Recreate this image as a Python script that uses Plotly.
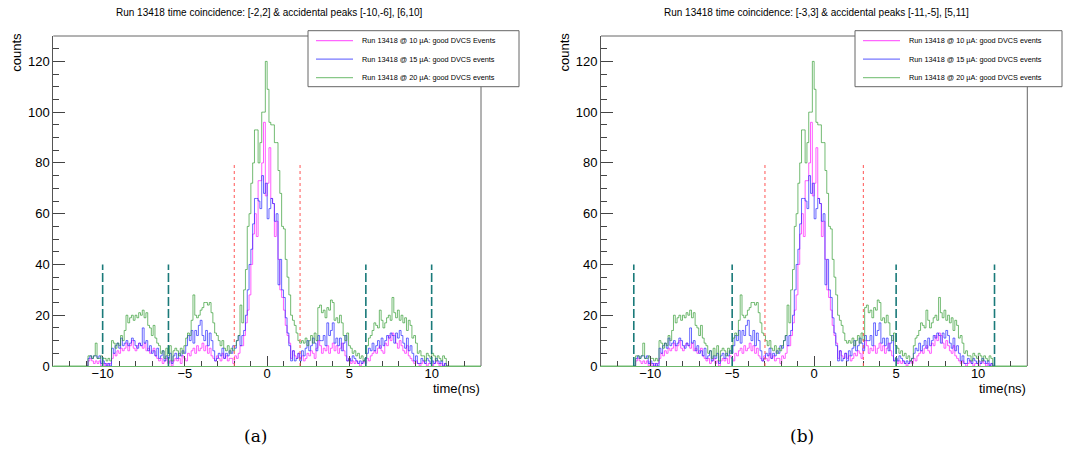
import numpy as np
import plotly.graph_objects as go

# ---------------- data ----------------
bin_lo, bin_hi, n_bins = -11.0, 11.0, 200
axis_range_x = [-13, 13]
axis_range_y = [0, 130]

counts_10uA = [
    0, 2, 3, 2, 1, 2, 1, 2, 0, 1,
    0, 1, 0, 1, 3, 5, 4, 6, 5, 7,
    6, 7, 9, 6, 8, 10, 7, 6, 8, 9,
    8, 7, 9, 6, 7, 5, 6, 7, 4, 3,
    2, 3, 1, 2, 3, 1, 2, 0, 2, 3,
    2, 3, 1, 4, 3, 2, 5, 4, 6, 7,
    5, 8, 6, 7, 9, 6, 8, 5, 7, 4,
    3, 2, 4, 3, 2, 5, 3, 4, 2, 3,
    3, 1, 4, 3, 5, 8, 8, 12, 17, 22,
    28, 40, 52, 60, 51, 73, 73, 80, 96, 67,
    72, 86, 66, 64, 51, 57, 42, 30, 27, 22,
    16, 12, 9, 3, 6, 4, 3, 5, 3, 4,
    2, 3, 5, 4, 6, 5, 3, 7, 10, 8,
    5, 7, 6, 8, 5, 7, 9, 6, 8, 5,
    7, 9, 6, 4, 2, 3, 1, 2, 1, 2,
    1, 0, 1, 2, 1, 3, 2, 4, 5, 6,
    5, 7, 8, 6, 5, 9, 8, 12, 10, 13,
    12, 9, 7, 10, 8, 6, 5, 8, 4, 3,
    2, 1, 2, 1, 0, 1, 2, 1, 0, 1,
    1, 0, 1, 2, 1, 0, 1, 0, 1, 0,
]
counts_15uA = [
    0, 3, 4, 3, 4, 4, 3, 4, 1, 2,
    1, 0, 1, 0, 7, 5, 8, 9, 7, 11,
    8, 9, 10, 8, 9, 11, 10, 8, 7, 9,
    8, 15, 9, 10, 6, 8, 5, 6, 4, 7,
    3, 4, 6, 2, 4, 3, 5, 1, 4, 5,
    3, 5, 4, 6, 5, 8, 12, 10, 14, 9,
    14, 12, 16, 18, 12, 10, 14, 8, 13, 10,
    6, 2, 3, 5, 4, 7, 3, 5, 4, 6,
    5, 8, 7, 10, 12, 8, 12, 14, 20, 30,
    40, 46, 56, 66, 66, 65, 62, 75, 68, 72,
    58, 62, 66, 64, 57, 60, 32, 42, 30, 27,
    19, 13, 8, 2, 6, 2, 3, 5, 2, 6,
    4, 7, 10, 6, 8, 11, 9, 6, 12, 10,
    10, 12, 8, 17, 12, 14, 17, 9, 11, 8,
    11, 6, 9, 12, 2, 3, 2, 4, 3, 2,
    1, 2, 1, 2, 3, 5, 7, 6, 9, 6,
    8, 10, 7, 11, 8, 10, 12, 11, 13, 12,
    9, 13, 11, 14, 12, 9, 7, 11, 6, 8,
    5, 2, 4, 1, 1, 3, 2, 1, 3, 2,
    1, 2, 1, 3, 2, 1, 2, 0, 1, 0,
]
counts_20uA = [
    0, 4, 4, 3, 4, 9, 3, 3, 4, 3,
    3, 2, 3, 2, 10, 9, 7, 9, 8, 12,
    10, 14, 20, 17, 19, 20, 18, 20, 19, 21,
    20, 22, 19, 21, 16, 15, 12, 16, 11, 9,
    8, 5, 6, 3, 7, 4, 8, 2, 6, 7,
    6, 4, 7, 5, 8, 11, 13, 12, 18, 28,
    20, 19, 20, 22, 23, 25, 25, 24, 25, 21,
    17, 13, 12, 10, 8, 10, 7, 6, 8, 5,
    7, 6, 8, 10, 12, 24, 17, 30, 38, 55,
    60, 72, 80, 93, 93, 80, 88, 100, 100, 120,
    109, 96, 95, 95, 88, 88, 77, 68, 55, 54,
    42, 35, 28, 20, 18, 16, 13, 10, 9, 10,
    9, 11, 8, 10, 12, 9, 13, 10, 23, 24,
    21, 22, 19, 23, 22, 26, 25, 18, 19, 17,
    20, 17, 12, 10, 13, 8, 7, 5, 6, 4,
    5, 3, 4, 2, 3, 8, 11, 12, 14, 17,
    16, 15, 22, 18, 15, 17, 19, 20, 18, 27,
    21, 19, 22, 18, 20, 17, 19, 14, 18, 16,
    11, 12, 9, 5, 6, 4, 4, 2, 5, 4,
    3, 5, 4, 2, 4, 3, 2, 4, 3, 0,
]

series_names = [
    ["Run 13418 @ 10 \u00b5A: good DVCS Events",
     "Run 13418 @ 15 \u00b5A: good DVCS events",
     "Run 13418 @ 20 \u00b5A: good DVCS events"],
    ["Run 13418 @ 10 \u00b5A: good DVCS events",
     "Run 13418 @ 15 \u00b5A: good DVCS events",
     "Run 13418 @ 20 \u00b5A: good DVCS events"],
]
panel_titles = [
    "Run 13418 time coincidence: [-2,2] & accidental peaks [-10,-6], [6,10]",
    "Run 13418 time coincidence: [-3,3] & accidental peaks [-11,-5], [5,11]",
]
coincidence_cuts = [[-2, 2], [-3, 3]]
accidental_cuts = [[-10, -6, 6, 10], [-11, -5, 5, 11]]
coincidence_height = 80
accidental_height = 40
subcaptions = ["(a)", "(b)"]

# ---------------- style ----------------
W, H = 1069, 451
colors = ["rgba(255,40,255,0.75)", "rgba(40,40,255,0.7)", "rgba(40,150,40,0.65)"]
legend_colors = ["#ff66ff", "#7777ff", "#88c888"]
FONT = "Liberation Sans, Arial, sans-serif"

def px(x):
    return x / W

def py(y):
    return 1 - y / H

panels = [
    dict(x0=53.3, x1=481.0, leg=(308, 519)),
    dict(x0=601.0, x1=1027.3, leg=(855, 1062)),
]
y_top, y_bot = 36.0, 366.0

edges = np.linspace(bin_lo, bin_hi, n_bins + 1)

def hist_xy(vals, pad=False):
    vals = list(vals)
    xs = [bin_lo] + list(edges)
    ys = [0] + vals + [0]
    if pad:
        xs = [axis_range_x[0]] + xs + [axis_range_x[1]]
        ys = [0] + ys + [0]
    return xs, ys

fig = go.Figure()
layout_axes = {}
shapes = []
annotations = []
all_counts = [counts_10uA, counts_15uA, counts_20uA]

for i, p in enumerate(panels):
    xa = "x" if i == 0 else "x2"
    ya = "y" if i == 0 else "y2"
    xkey = "xaxis" if i == 0 else "xaxis2"
    ykey = "yaxis" if i == 0 else "yaxis2"
    for k, vals in enumerate(all_counts):
        xs, ys = hist_xy(vals, pad=(k == 2))
        fig.add_trace(go.Scatter(
            x=xs, y=ys, mode="lines", line=dict(shape="hv", color=colors[k], width=1),
            xaxis=xa, yaxis=ya, showlegend=False, hoverinfo="skip"))
    layout_axes[xkey] = dict(
        domain=[px(p["x0"]), px(p["x1"])], range=axis_range_x, anchor=ya,
        tickmode="linear", tick0=0, dtick=5, ticks="inside", ticklen=10,
        tickcolor="#444", tickwidth=1, ticklabelstandoff=-5,
        minor=dict(dtick=1, tick0=0, ticks="inside", ticklen=5, tickcolor="#444"),
        showline=True, linecolor="#6cb86c", linewidth=1, showgrid=False, zeroline=False,
        tickfont=dict(family=FONT, size=13, color="black"),
    )
    layout_axes[ykey] = dict(
        domain=[py(y_bot), py(y_top)], range=axis_range_y, anchor=xa,
        tickmode="linear", tick0=0, dtick=20, ticks="inside", ticklen=12,
        tickcolor="#444", tickwidth=1,
        minor=dict(dtick=5, tick0=0, ticks="inside", ticklen=6, tickcolor="#444"),
        showline=True, linecolor="#555", linewidth=1, showgrid=False, zeroline=False,
        tickfont=dict(family=FONT, size=13, color="black"),
    )
    # frame top and right
    shapes.append(dict(type="line", xref=f"{xa} domain", yref=f"{ya} domain",
                       x0=0, x1=1, y0=1, y1=1, line=dict(color="#666", width=1)))
    shapes.append(dict(type="line", xref=f"{xa} domain", yref=f"{ya} domain",
                       x0=1, x1=1, y0=0, y1=1, line=dict(color="#666", width=1)))
    # cut lines
    for c in coincidence_cuts[i]:
        shapes.append(dict(type="line", xref=xa, yref=ya, x0=c, x1=c, y0=0,
                           y1=coincidence_height,
                           line=dict(color="#ff5555", width=1, dash="dot")))
    for c in accidental_cuts[i]:
        shapes.append(dict(type="line", xref=xa, yref=ya, x0=c, x1=c, y0=0,
                           y1=accidental_height,
                           line=dict(color="#1a7a7a", width=1.6, dash="9px,3px")))
    # legend box
    lx0, lx1 = p["leg"]
    ly0, ly1 = 30.7, 86.7
    shapes.append(dict(type="rect", xref="paper", yref="paper",
                       x0=px(lx0), x1=px(lx1), y0=py(ly1), y1=py(ly0),
                       fillcolor="white", line=dict(color="#666", width=1), layer="above"))
    for k in range(3):
        yy = 40.7 + k * 18.5
        shapes.append(dict(type="line", xref="paper", yref="paper",
                           x0=px(lx0 + 8), x1=px(lx0 + 45), y0=py(yy), y1=py(yy),
                           line=dict(color=legend_colors[k], width=1.2), layer="above"))
        annotations.append(dict(xref="paper", yref="paper", x=px(lx0 + 52), y=py(yy),
                                text=series_names[i][k], showarrow=False,
                                xanchor="left", yanchor="middle",
                                font=dict(family=FONT, size=7.3, color="black")))
    # title
    annotations.append(dict(xref="paper", yref="paper", x=px((p["x0"] + p["x1"]) / 2 + 2),
                            y=py(13), text=panel_titles[i], showarrow=False,
                            xanchor="center", yanchor="middle",
                            font=dict(family=FONT, size=10, color="black")))
    # y title
    annotations.append(dict(xref="paper", yref="paper", x=px(p["x0"] - 37), y=py(31),
                            text="counts", showarrow=False, textangle=-90,
                            xanchor="center", yanchor="top",
                            font=dict(family=FONT, size=13, color="black")))
    # x title
    annotations.append(dict(xref="paper", yref="paper", x=px(p["x1"] + 1), y=py(388),
                            text="time(ns)", showarrow=False,
                            xanchor="right", yanchor="middle",
                            font=dict(family=FONT, size=13, color="black")))
    # subcaption
    annotations.append(dict(xref="paper", yref="paper", x=px((p["x0"] + p["x1"]) / 2 - 12),
                            y=py(436), text=subcaptions[i], showarrow=False,
                            xanchor="center", yanchor="middle",
                            font=dict(family="DejaVu Serif, Liberation Serif, serif",
                                      size=17, color="black")))

fig.update_layout(
    width=W, height=H, margin=dict(l=0, r=0, t=0, b=0, autoexpand=False),
    paper_bgcolor="white", plot_bgcolor="white",
    showlegend=False, shapes=shapes, annotations=annotations,
    **layout_axes,
)
fig.write_html("out.html", config={"responsive": False, "displayModeBar": False},
               post_script="document.body.style.margin='0';document.body.style.overflow='hidden';")
